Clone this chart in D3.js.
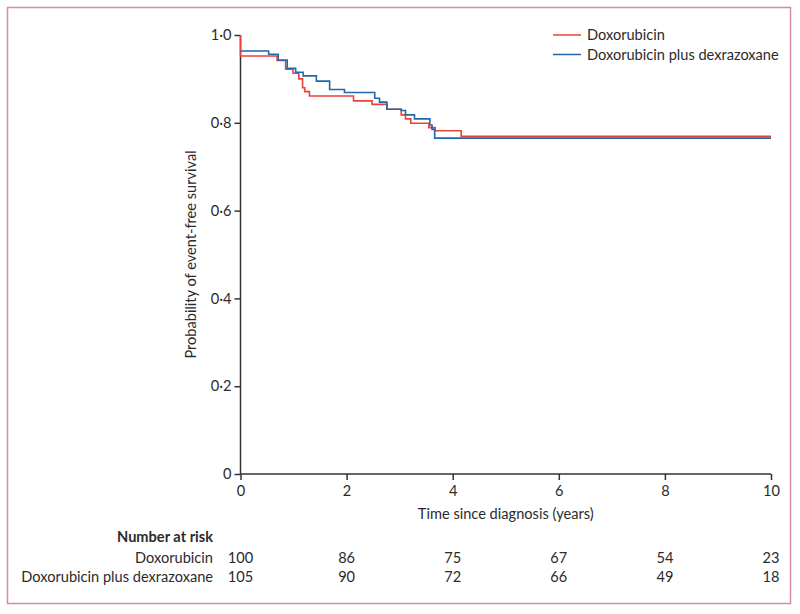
<!DOCTYPE html>
<html>
<head>
<meta charset="utf-8">
<script src="https://cdn.jsdelivr.net/npm/d3@7"></script>
<style>
  html, body { margin: 0; padding: 0; background: #fff; }
  svg text { font-family: Lato, "Open Sans", sans-serif; fill: #2b2b2b; }
</style>
</head>
<body>
<svg id="chart" width="800" height="614"></svg>
<script>
// ---- data ----
const seriesNames = ["Doxorubicin", "Doxorubicin plus dexrazoxane"];
const doxTimes = [0, 0, 0.69, 0.85, 0.99, 1.10, 1.17, 1.21, 1.30, 2.13, 2.48, 2.76, 3.03, 3.11, 3.21, 3.55, 3.67, 4.16, 10];
const doxSurv  = [1.0, 0.952, 0.942, 0.922, 0.913, 0.900, 0.880, 0.871, 0.861, 0.850, 0.842, 0.831, 0.818, 0.809, 0.799, 0.789, 0.782, 0.769, 0.769];
const dexTimes = [0, 0.53, 0.71, 0.88, 1.04, 1.18, 1.43, 1.68, 1.96, 2.53, 2.62, 2.76, 3.03, 3.11, 3.28, 3.57, 3.61, 3.66, 10];
const dexSurv  = [0.9635, 0.956, 0.943, 0.924, 0.915, 0.907, 0.895, 0.876, 0.869, 0.856, 0.847, 0.831, 0.828, 0.818, 0.809, 0.795, 0.785, 0.765, 0.765];
const xTicks = [0, 2, 4, 6, 8, 10];
const yTicks = [0, 0.2, 0.4, 0.6, 0.8, 1.0];
const yTickLabels = ["0", "0·2", "0·4", "0·6", "0·8", "1·0"];
const riskDox = [100, 86, 75, 67, 54, 23];
const riskDex = [105, 90, 72, 66, 49, 18];
const colors = ["#e8423a", "#2466ac"];

// ---- drawing ----
const FS = 14.6;
const svg = d3.select("#chart");
const x = d3.scaleLinear().domain([0, 10]).range([240.5, 771]);
const y = d3.scaleLinear().domain([0, 1]).range([474, 35]);
const axisColor = "#333";

// border
svg.append("rect").attr("x", 7.5).attr("y", 7.5).attr("width", 783).attr("height", 596)
  .attr("fill", "none").attr("stroke", "#d88aa6").attr("stroke-width", 1.5);

// y axis
const yAxis = svg.append("g").attr("transform", `translate(${x(0)},0)`)
  .call(d3.axisLeft(y).tickValues(yTicks).tickSize(6).tickPadding(3)
    .tickFormat((d, i) => yTickLabels[i]));
// x axis
const xAxis = svg.append("g").attr("transform", `translate(0,${y(0)})`)
  .call(d3.axisBottom(x).tickValues(xTicks).tickSize(6).tickPadding(6));
[xAxis, yAxis].forEach(a => {
  a.select(".domain").attr("stroke", axisColor).attr("stroke-width", 1.5);
  a.selectAll(".tick line").attr("stroke", axisColor).attr("stroke-width", 1.5);
  a.selectAll(".tick text").attr("font-size", FS).attr("fill", "#2b2b2b")
    .style("font-family", "Lato, sans-serif");
});
yAxis.select(".domain").attr("d", `M0,${y(0)}V${y(1)}`);
xAxis.select(".domain").attr("d", `M${x(0)},0H${x(10)}`);

// axis titles
svg.append("text").attr("x", (x(0) + x(10)) / 2).attr("y", 519)
  .attr("text-anchor", "middle").attr("font-size", FS).text("Time since diagnosis (years)");
svg.append("text").attr("transform", `translate(196,${(y(0) + y(1)) / 2}) rotate(-90)`)
  .attr("text-anchor", "middle").attr("font-size", FS).text("Probability of event-free survival");

// curves
const line = d3.line().curve(d3.curveStepAfter).x(d => x(d[0])).y(d => y(d[1]));
const doxData = doxTimes.map((t, i) => [t, doxSurv[i]]);
const dexData = dexTimes.map((t, i) => [t, dexSurv[i]]);
svg.append("path").datum(doxData).attr("d", line).attr("fill", "none")
  .attr("stroke", colors[0]).attr("stroke-width", 1.6);
svg.append("path").datum(dexData).attr("d", line).attr("fill", "none")
  .attr("stroke", colors[1]).attr("stroke-width", 1.6);

// legend
seriesNames.forEach((name, i) => {
  const ly = 35 + i * 19.5;
  svg.append("line").attr("x1", 553).attr("x2", 581).attr("y1", ly).attr("y2", ly)
    .attr("stroke", colors[i]).attr("stroke-width", 1.5);
  svg.append("text").attr("x", 587).attr("y", ly + 5).attr("font-size", FS).text(name);
});

// number at risk
svg.append("text").attr("x", 213).attr("y", 542).attr("text-anchor", "end")
  .attr("font-size", FS).attr("font-weight", "bold").text("Number at risk");
[riskDox, riskDex].forEach((row, r) => {
  const ry = 563 + r * 19;
  svg.append("text").attr("x", 213).attr("y", ry).attr("text-anchor", "end")
    .attr("font-size", FS).text(seriesNames[r]);
  row.forEach((v, i) => {
    svg.append("text").attr("x", x(xTicks[i])).attr("y", ry).attr("text-anchor", "middle")
      .attr("font-size", FS).text(v);
  });
});
</script>
</body>
</html>
